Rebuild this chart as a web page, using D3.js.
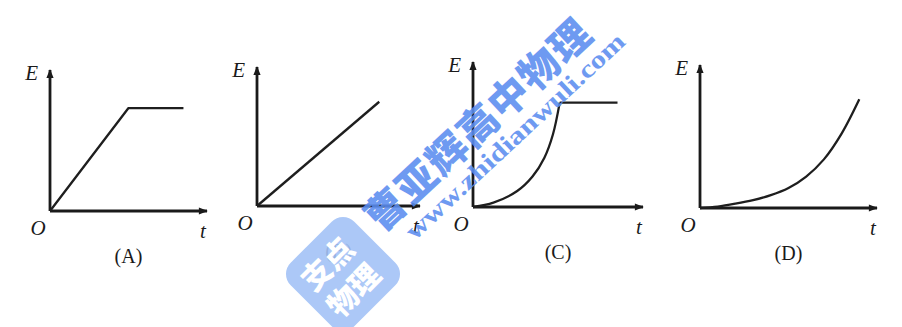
<!DOCTYPE html>
<html lang="zh">
<head>
  <meta charset="UTF-8">
  <title>E-t graphs</title>
  <script src="https://d3js.org/d3.v7.min.js"></script>
  <style>
    body { margin: 0; background: #fff; }
  </style>
</head>
<body>
  <div id="container"></div>
  <script>
    // values, t and E both on 0..1
    const panelLabels = ['(A)', '(B)', '(C)', '(D)']
    const axisLabels = { y: 'E', x: 't', origin: 'O' }
    const curveA = [[0, 0], [0.5, 0.73], [0.85, 0.73]]
    const curveB = [[0, 0], [0.75, 0.75]]
    const curveC = [[0, 0], [0.12, 0.03], [0.26, 0.11], [0.35, 0.21], [0.42, 0.34], [0.47, 0.5], [0.51, 0.72]]
    const flatC = [[0.51, 0.72], [0.85, 0.72]]
    const curveD = [[0, 0], [0.1, 0.01], [0.2, 0.03], [0.3, 0.055], [0.4, 0.09], [0.5, 0.14], [0.6, 0.22], [0.7, 0.34], [0.8, 0.52], [0.9, 0.76]]
    const watermarkTitle = '曹亚辉高中物理'
    const watermarkUrl = 'www.zhidianwuli.com'
    const logoLines = ['支点', '物理']

    const panels = [
      { label: panelLabels[0], ox: 50, oy: 211, w: 157, h: 141, lines: [{ pts: curveA, smooth: false }] },
      { label: panelLabels[1], ox: 257, oy: 206, w: 163, h: 139, lines: [{ pts: curveB, smooth: false }] },
      { label: panelLabels[2], ox: 473, oy: 207, w: 170, h: 145, lines: [{ pts: curveC, smooth: true }, { pts: flatC, smooth: false }] },
      { label: panelLabels[3], ox: 700, oy: 208, w: 177, h: 143, lines: [{ pts: curveD, smooth: true }] }
    ]

    const svg = d3.select('#container').append('svg')
      .attr('width', 902)
      .attr('height', 327)
      .style('background-color', '#ffffff')

    svg.append('defs').append('marker')
      .attr('id', 'arrow')
      .attr('viewBox', '0 0 10 10')
      .attr('refX', 9)
      .attr('refY', 5)
      .attr('markerUnits', 'userSpaceOnUse')
      .attr('markerWidth', 12)
      .attr('markerHeight', 9)
      .attr('orient', 'auto')
      .append('path')
        .attr('d', 'M0,1 L10,5 L0,9 Z')
        .attr('fill', '#1a1a1a')

    const serif = '"Liberation Serif", "DejaVu Serif", serif'
    const cjk = '"Noto Sans CJK SC", sans-serif'

    panels.forEach(function (p) {
      const x = d3.scaleLinear().domain([0, 1]).range([p.ox, p.ox + p.w])
      const y = d3.scaleLinear().domain([0, 1]).range([p.oy, p.oy - p.h])
      const g = svg.append('g')

      // axes
      g.append('line')
        .attr('x1', x(0)).attr('y1', y(0))
        .attr('x2', x(1)).attr('y2', y(0))
        .attr('stroke', '#1a1a1a').attr('stroke-width', 2.8)
        .attr('marker-end', 'url(#arrow)')
      g.append('line')
        .attr('x1', x(0)).attr('y1', y(0))
        .attr('x2', x(0)).attr('y2', y(1))
        .attr('stroke', '#1a1a1a').attr('stroke-width', 2.8)
        .attr('marker-end', 'url(#arrow)')

      p.lines.forEach(function (l) {
        const line = d3.line()
          .x(d => x(d[0]))
          .y(d => y(d[1]))
          .curve(l.smooth ? d3.curveCatmullRom.alpha(0.5) : d3.curveLinear)
        g.append('path')
          .attr('d', line(l.pts))
          .attr('fill', 'none')
          .attr('stroke', '#1e1e1e')
          .attr('stroke-width', 2.3)
          .attr('stroke-linejoin', 'round')
      })

      g.append('text')
        .attr('x', x(0) - 12).attr('y', y(1) + 10)
        .attr('text-anchor', 'end')
        .attr('font-family', serif).attr('font-style', 'italic')
        .attr('font-size', 21).attr('fill', '#1a1a1a')
        .text(axisLabels.y)
      g.append('text')
        .attr('x', x(0) - 12).attr('y', y(0) + 24)
        .attr('text-anchor', 'middle')
        .attr('font-family', serif).attr('font-style', 'italic')
        .attr('font-size', 21).attr('fill', '#1a1a1a')
        .text(axisLabels.origin)
      g.append('text')
        .attr('x', x(1) - 4).attr('y', y(0) + 27)
        .attr('text-anchor', 'middle')
        .attr('font-family', serif).attr('font-style', 'italic')
        .attr('font-size', 21).attr('fill', '#1a1a1a')
        .text(axisLabels.x)
      g.append('text')
        .attr('x', x(0.5)).attr('y', y(0) + 52)
        .attr('text-anchor', 'middle')
        .attr('font-family', serif)
        .attr('font-size', 20).attr('fill', '#1a1a1a')
        .text(p.label)
    })

    // watermark
    const wm = svg.append('g').attr('opacity', 0.88)
    const wmBlue = '#5b8df0'
    // title set char by char along the diagonal
    const chars = Array.from(watermarkTitle)
    const cx = d3.scaleLinear().domain([0, chars.length - 1]).range([384, 568])
    const cy = d3.scaleLinear().domain([0, chars.length - 1]).range([208, 39])
    wm.selectAll('text.wmchar')
      .data(chars)
      .enter()
      .append('text')
        .attr('class', 'wmchar')
        .attr('transform', (d, i) => 'translate(' + cx(i) + ',' + cy(i) + ') rotate(-43)')
        .attr('text-anchor', 'middle')
        .attr('dominant-baseline', 'central')
        .attr('font-family', cjk)
        .attr('font-weight', 900)
        .attr('font-size', 40)
        .attr('fill', wmBlue)
        .text(d => d)
    wm.append('text')
      .attr('transform', 'translate(515,136) rotate(-43)')
      .attr('text-anchor', 'middle')
      .attr('dominant-baseline', 'central')
      .attr('font-family', serif)
      .attr('font-weight', 'bold')
      .attr('font-size', 25)
      .attr('textLength', 290)
      .attr('lengthAdjust', 'spacingAndGlyphs')
      .attr('fill', wmBlue)
      .text(watermarkUrl)
    const logo = svg.append('g').attr('transform', 'translate(343,274) rotate(-45)')
    logo.append('rect')
      .attr('x', -45).attr('y', -45)
      .attr('width', 90).attr('height', 90)
      .attr('rx', 16)
      .attr('fill', '#a3c2f6')
      .attr('opacity', 0.9)
    logo.selectAll('text')
      .data(logoLines)
      .enter()
      .append('text')
        .attr('x', -4)
        .attr('y', (d, i) => i === 0 ? -20 : 17)
        .attr('text-anchor', 'middle')
        .attr('dominant-baseline', 'central')
        .attr('font-family', cjk)
        .attr('font-weight', 900)
        .attr('font-size', 30)
        .attr('fill', '#ffffff')
        .text(d => d)
  </script>
</body>
</html>
